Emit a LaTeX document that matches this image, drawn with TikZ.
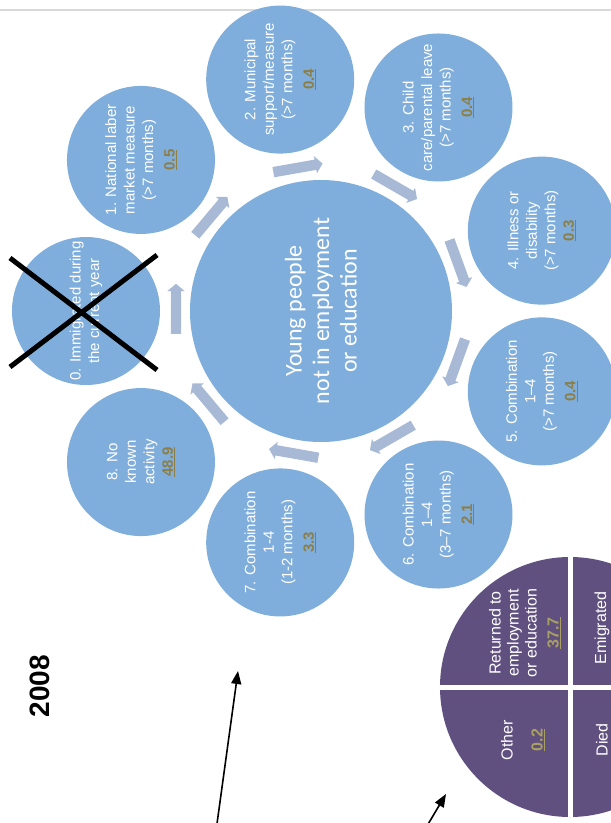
\documentclass[tikz,border=0pt]{standalone}
\usepackage{fontspec}
\setmainfont{Liberation Sans}
\newfontfamily\corefont{Carlito}
\usetikzlibrary{arrows.meta,shapes.arrows}

\definecolor{bubbleblue}{RGB}{127,174,220}
\definecolor{flowgrey}{RGB}{167,185,212}
\definecolor{exitpurple}{RGB}{96,80,128}
\definecolor{valolive}{RGB}{140,126,70}
\definecolor{valkhaki}{RGB}{168,160,98}

\newcommand{\statval}[2]{\textcolor{#1}{\bfseries\underline{#2}}}

\tikzset{
	bubble/.style={circle, fill=bubbleblue, minimum size=148pt, inner sep=0pt,
		text=white, rotate=90, align=center, font=\fontsize{15}{18.5}\selectfont},
	flowarrow/.style={single arrow, fill=flowgrey, minimum height=50pt,
		inner xsep=0pt, inner ysep=5pt, single arrow head extend=3.5pt,
		single arrow tip angle=100},
	exittext/.style={text=white, rotate=90, align=center, font=\fontsize{16}{18}\selectfont},
	pointer/.style={line width=1.6pt, -{Triangle[length=13pt,width=10pt]}}
}

\begin{document}
\begin{tikzpicture}[x=1pt,y=1pt]
			%%%%% START %%%%%
			\useasboundingbox (-321,-512) rectangle (290,311);
			
			\draw[line width=1.5pt, color=black!15] (-321,301) -- (290,301);
			
			% centre
			\node[circle, fill=bubbleblue, minimum size=262pt, inner sep=0pt, text=white, rotate=90, align=center,
				font=\corefont\fontsize{24}{27.5}\selectfont] (core) at (0,0) {Young people\\not in employment\\or education};
			
			% arrows round the centre
			\foreach \a [count=\i] in {180,140,100,60,20,-20,-60,-100,-140}
				\node[flowarrow, rotate={\a-90}] (flow\i) at (\a:145) {};
			
			% outer bubbles
			\node[bubble] (immigrated) at (180:235) {0. Immigrated during\\the current year};
			\node[bubble] (labour) at (140:235) {1. National laber\\market measure\\(>7 months)\\[3pt]\statval{valolive}{0.5}};
			\node[bubble] (municipal) at (100:235) {2. Municipal\\support/measure\\(>7 months)\\[3pt]\statval{valolive}{0.4}};
			\node[bubble] (childcare) at (60:235) {3. Child\\care/parental leave\\(>7 months)\\[3pt]\statval{valolive}{0.4}};
			\node[bubble] (illness) at (20:235) {4. Illness or\\disability\\(>7 months)\\\statval{valolive}{0.3}};
			\node[bubble] (combolong) at (-20:235) {5. Combination\\1--4\\(>7 months)\\[3pt]\statval{valolive}{0.4}};
			\node[bubble] (combomid) at (-60:235) {6. Combination\\1--4\\(3--7 months)\\[3pt]\statval{valolive}{2.1}};
			\node[bubble] (comboshort) at (-100:235) {7. Combination\\1-4\\(1-2 months)\\[3pt]\statval{valolive}{3.3}};
			\node[bubble] (noactivity) at (-140:235) {8. No\\known\\activity\\\statval{valolive}{48.9}};
			
			% cross over bubble 0
			\draw[line width=5pt] (-311,53) -- (-164,-59);
			\draw[line width=5pt] (-311,-56) -- (-164,56);
			
			% outcomes
			\node[circle, fill=exitpurple, minimum size=260pt, inner sep=0pt] (exits) at (249,-376) {};
			\draw[white, line width=5pt] (exits.north) -- (exits.south);
			\draw[white, line width=5pt] (exits.west) -- (exits.east);
			\node[exittext] (returned) at (204,-322) {Returned to\\employment\\or education\\[4pt]\statval{valkhaki}{37.7}};
			\node[exittext] (other) at (202,-429) {Other\\[12pt]\statval{valkhaki}{0.2}};
			\node[exittext] (emigrated) at (281,-317) {Emigrated};
			\node[exittext] (died) at (281,-429) {Died};
			
			\node[rotate=90, font=\bfseries\fontsize{28}{30}\selectfont] (year) at (-281,-375) {2008};
			
			\coordinate (tailA) at (-105,-520);
			\coordinate (tipA) at (-83,-360);
			\draw[pointer] (tailA) -- (tipA);
			\coordinate (tailB) at (103,-520);
			\coordinate (tipB) at (125,-483);
			\draw[pointer] (tailB) -- (tipB);
			%%%%% END %%%%%
\end{tikzpicture}
\end{document}
